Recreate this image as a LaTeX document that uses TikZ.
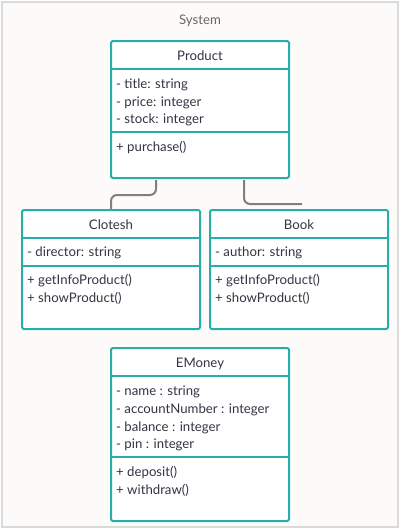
\documentclass[tikz,border=0pt]{standalone}
\usepackage{fontspec}
\setmainfont{Lato}
\usetikzlibrary{calc}
\definecolor{tealb}{RGB}{40,174,170}
\definecolor{txt}{RGB}{52,52,68}
\definecolor{framec}{RGB}{218,218,218}
\definecolor{bgc}{RGB}{252,251,249}
\definecolor{connc}{RGB}{128,128,128}
\tikzset{
  cls/.style={draw=tealb, line width=2pt, fill=white, rounded corners=1.5pt, inner sep=0pt},
  divider/.style={draw=tealb, line width=1.6pt},
  lbl/.style={anchor=west, inner sep=0pt, yshift=-1pt, text=txt, font=\fontsize{13.2}{15}\selectfont},
  ttl/.style={anchor=center, inner sep=0pt, yshift=-1pt, text=txt, font=\fontsize{13.2}{15}\selectfont},
  conn/.style={draw=connc, line width=2pt, rounded corners=6pt},
}
\begin{document}
\begin{tikzpicture}[x=1pt,y=-1pt]
\useasboundingbox (0,0) rectangle (402,531);
\fill[white] (0,0) rectangle (402,531);
\draw[framec, line width=1.6pt, fill=bgc] (2,2) rectangle (398,527);
\node[inner sep=0pt, yshift=-1pt, text=black!60, font=\fontsize{13.2}{15}\selectfont] (sys) at (200,20) {System};

% Product
\node[cls, minimum width=178pt, minimum height=137pt] (product) at (200,109.5) {};
\draw[divider] (111,69) -- (289,69);
\draw[divider] (111,132) -- (289,132);
\node[ttl] (pn) at (200,55) {Product};
\node[lbl] (pa1) at (116,84) {- title: string};
\node[lbl] (pa2) at (116,102) {- price: integer};
\node[lbl] (pa3) at (116,119) {- stock: integer};
\node[lbl] (pm1) at (116,147) {+ purchase()};

% Clotesh
\node[cls, minimum width=178pt, minimum height=119pt] (clotesh) at (111,269.5) {};
\draw[divider] (22,238) -- (200,238);
\draw[divider] (22,266) -- (200,266);
\node[ttl] (cn) at (111,224) {Clotesh};
\node[lbl] (ca1) at (27,252) {- director: string};
\node[lbl] (cm1) at (27,280) {+ getInfoProduct()};
\node[lbl] (cm2) at (27,297.5) {+ showProduct()};

% Book
\node[cls, minimum width=178pt, minimum height=119pt] (book) at (299,269.5) {};
\draw[divider] (210,238) -- (388,238);
\draw[divider] (210,266) -- (388,266);
\node[ttl] (bn) at (299,224) {Book};
\node[lbl] (ba1) at (215,252) {- author: string};
\node[lbl] (bm1) at (215,280) {+ getInfoProduct()};
\node[lbl] (bm2) at (215,297.5) {+ showProduct()};

% EMoney
\node[cls, minimum width=178pt, minimum height=173pt] (emoney) at (200,434.5) {};
\draw[divider] (111,376) -- (289,376);
\draw[divider] (111,457) -- (289,457);
\node[ttl] (en) at (200,362.7) {EMoney};
\node[lbl] (ea1) at (116,390.7) {- name : string};
\node[lbl] (ea2) at (116,409) {- accountNumber : integer};
\node[lbl] (ea3) at (116,426.7) {- balance : integer};
\node[lbl] (ea4) at (116,444.3) {- pin : integer};
\node[lbl] (em1) at (116,471.7) {+ deposit()};
\node[lbl] (em2) at (116,489.3) {+ withdraw()};

% connectors
\coordinate (bookend) at (302,204);
\draw[conn] ($(product.south)+(-44,1)$) -- ++(0,15) -| (clotesh.north);
\draw[conn] ($(product.south)+(44,1)$) |- (bookend);
\end{tikzpicture}
\end{document}
